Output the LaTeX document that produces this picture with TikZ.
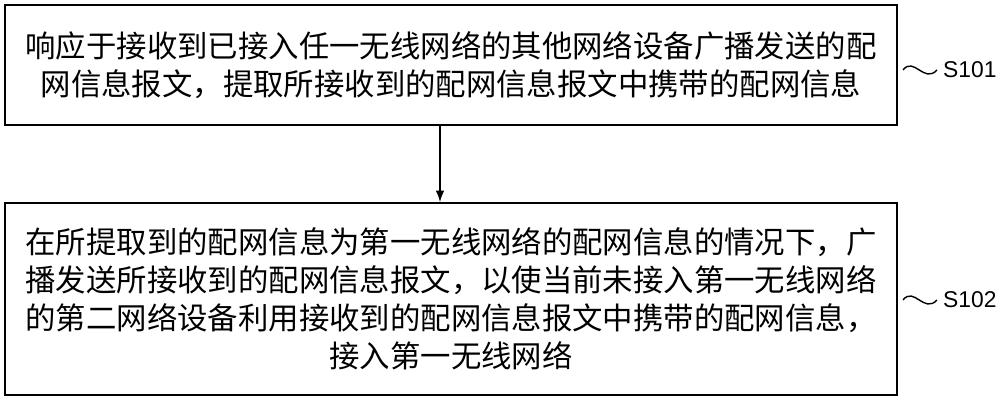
\documentclass[tikz,border=0pt]{standalone}
\usepackage{fontspec}
\newfontfamily\cjk{Noto Sans CJK SC}
\setsansfont{Liberation Sans}
\usetikzlibrary{positioning}
\tikzset{stepbox/.style={draw,line width=1.2pt,minimum width=17.84cm,align=center,font=\cjk\fontsize{17.3}{21.6}\selectfont,inner sep=0pt},
steplabel/.style={font=\sffamily\fontsize{13}{15}\selectfont,anchor=west}}
\begin{document}
\begin{tikzpicture}[x=0.02cm,y=-0.02cm]
\useasboundingbox (0,0) rectangle (1000,407);
\node[stepbox,minimum height=2.4cm] (s1) at (451,65) {响应于接收到已接入任一无线网络的其他网络设备广播发送的配\\网信息报文，提取所接收到的配网信息报文中携带的配网信息};
\node[stepbox,minimum height=3.84cm] (s2) at (451,299) {在所提取到的配网信息为第一无线网络的配网信息的情况下，广\\播发送所接收到的配网信息报文，以使当前未接入第一无线网络\\的第二网络设备利用接收到的配网信息报文中携带的配网信息，\\接入第一无线网络};
\draw[line width=1.2pt,-latex] (s1.south-|440,0) -- (s2.north-|440,0);
\coordinate (w1) at (903,70);
\coordinate (w2) at (903,300);
\node[steplabel] (l1) at (937,70) {S101};
\node[steplabel] (l2) at (937,300) {S102};
\draw[line width=0.8pt] (w1) .. controls (914,56) and (924,84) .. (l1.west);
\draw[line width=0.8pt] (w2) .. controls (914,286) and (924,314) .. (l2.west);
\end{tikzpicture}
\end{document}
